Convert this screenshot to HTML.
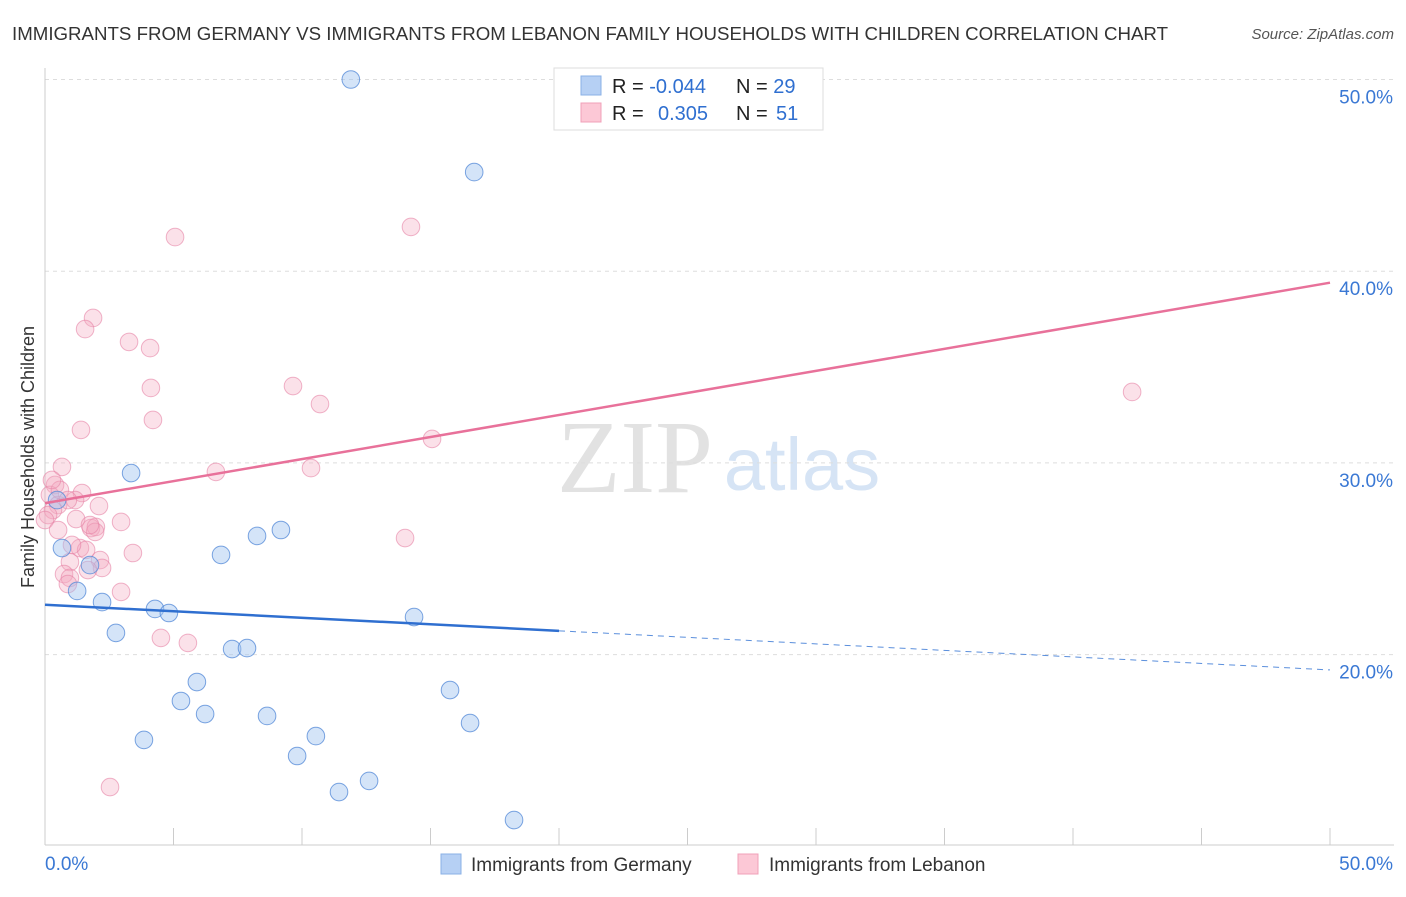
<!DOCTYPE html>
<html><head><meta charset="utf-8"><style>
body{margin:0;background:#fff;font-family:"Liberation Sans",sans-serif;}
</style></head><body>
<svg id="chart" width="1406" height="892" xmlns="http://www.w3.org/2000/svg" font-family="Liberation Sans, sans-serif">
<text x="12" y="40" font-size="18" fill="#333" textLength="1156" lengthAdjust="spacingAndGlyphs">IMMIGRANTS FROM GERMANY VS IMMIGRANTS FROM LEBANON FAMILY HOUSEHOLDS WITH CHILDREN CORRELATION CHART</text>
<text x="1394" y="39" font-size="15" fill="#555" font-style="italic" text-anchor="end">Source: ZipAtlas.com</text>
<text transform="translate(34,457) rotate(-90)" font-size="18" fill="#333" text-anchor="middle">Family Households with Children</text>
<g>
<text x="635" y="492" font-size="104" font-family="Liberation Serif, serif" fill="#e2e2e2" text-anchor="middle">ZIP</text>
<text x="802" y="490" font-size="74" fill="#d6e4f5" text-anchor="middle">atlas</text>
</g>
<g id="grid"></g>
<g id="marks"></g>
<g>
<rect x="554" y="68" width="269" height="62" fill="#fff" stroke="#ddd"/>
<rect x="581" y="76" width="20" height="19" fill="#b6d0f4" stroke="#8ab0e6"/>
<rect x="581" y="103" width="20" height="19" fill="#fcc8d6" stroke="#f0a0b8"/>
<text x="612" y="93" font-size="20" fill="#222">R = <tspan fill="#2f6fd0">-0.044</tspan></text>
<text x="736" y="93" font-size="20" fill="#222">N = <tspan fill="#2f6fd0">29</tspan></text>
<text x="612" y="120" font-size="20" fill="#222">R = <tspan fill="#2f6fd0" x="658">0.305</tspan></text>
<text x="736" y="120" font-size="20" fill="#222">N = <tspan fill="#2f6fd0" x="776">51</tspan></text>
</g>
<g>
<rect x="441" y="854" width="20" height="20" fill="#b6d0f4" stroke="#8ab0e6"/>
<text x="471" y="871" font-size="19" fill="#333">Immigrants from Germany</text>
<rect x="738" y="854" width="20" height="20" fill="#fcc8d6" stroke="#f0a0b8"/>
<text x="769" y="871" font-size="19" fill="#333">Immigrants from Lebanon</text>
</g>
</svg>
<script>
const yTicks=[20,30,40,50];
const yTickLabels=["20.0%","30.0%","40.0%","50.0%"];
const xTickVals=[0,5,10,15,20,25,30,35,40,45,50];
const germanyX=[11.9,16.7,3.35,0.66,1.75,1.25,2.22,6.85,8.25,9.18,4.28,4.82,2.76,7.28,7.86,14.36,5.91,5.29,6.23,8.64,3.85,9.81,10.54,11.44,12.61,15.76,16.54,18.25,0.47];
const germanyY=[50.0,45.17,29.47,25.56,24.67,23.32,22.74,25.2,26.19,26.5,22.38,22.17,21.13,20.29,20.34,21.96,18.57,17.58,16.9,16.8,15.55,14.71,15.75,12.83,13.41,18.15,16.43,11.37,28.06];
const lebanonX=[5.06,14.24,1.87,1.56,3.27,4.09,4.12,9.65,10.7,4.2,1.4,15.06,0.66,6.65,10.35,42.3,14.01,0.39,1.44,0.19,1.17,0.51,2.1,0.31,0.12,1.21,2.96,1.79,1.98,1.95,1.36,1.6,3.42,0.97,2.14,2.22,1.67,0.74,0.97,0.89,2.96,4.51,5.56,2.53,0,0.58,0.89,0.27,1.75,0.51,1.05];
const lebanonY=[41.78,42.31,37.56,36.98,36.31,35.99,33.91,34.01,33.07,32.24,31.72,31.25,29.79,29.53,29.73,33.7,26.08,28.85,28.43,28.33,28.06,27.8,27.75,27.54,27.28,27.07,26.92,26.6,26.66,26.4,25.56,25.46,25.3,24.83,24.93,24.52,24.41,24.2,24.0,23.68,23.27,20.87,20.61,13.09,27.02,28.59,28.06,29.11,26.76,26.5,25.72];
const germanyTrend=[22.6,19.2];
const lebanonTrend=[27.9,39.4];
const germanySolidEnd=20;

const sx=v=>45+v*25.7;
const sy=v=>1038-v*19.17;
const NS="http://www.w3.org/2000/svg";
const grid=document.getElementById('grid'), marks=document.getElementById('marks');
function mk(tag,attrs,parent){const e=document.createElementNS(NS,tag);for(const k in attrs)e.setAttribute(k,attrs[k]);parent.appendChild(e);return e;}

yTicks.forEach((t,i)=>{
  const g=mk('line',{x1:45,x2:1394,y1:sy(t),y2:sy(t),stroke:'#ddd','stroke-dasharray':'4,4'},grid);
  
  
  const l=mk('text',{x:1393,y:sy(t)+24,'font-size':19,fill:'#3a78d4','text-anchor':'end'},grid);
  l.textContent=yTickLabels[i];
  
  
});
const ax=mk('line',{x1:45,x2:1394,y1:845,y2:845,stroke:'#ccc'},grid);


const ay=mk('line',{x1:45,x2:45,y1:68,y2:845,stroke:'#ccc'},grid);


xTickVals.forEach(t=>{
  const tk=mk('line',{x1:sx(t),x2:sx(t),y1:828,y2:845,stroke:'#ccc'},grid);
  
  
});
const xl0=mk('text',{x:45,y:870,'font-size':19,fill:'#3a78d4'},grid);xl0.textContent='0.0%';


const xl1=mk('text',{x:1393,y:870,'font-size':19,fill:'#3a78d4','text-anchor':'end'},grid);xl1.textContent='50.0%';



lebanonX.forEach((x,i)=>{
  const c=mk('circle',{cx:sx(x),cy:sy(lebanonY[i]),r:8.8,fill:'rgba(244,168,192,0.35)',stroke:'rgba(230,130,165,0.6)','stroke-width':1},marks);
  
  
});
germanyX.forEach((x,i)=>{
  const c=mk('circle',{cx:sx(x),cy:sy(germanyY[i]),r:8.8,fill:'rgba(160,196,240,0.45)',stroke:'rgba(80,135,215,0.75)','stroke-width':1},marks);
  
  
});
const gAt=x=>germanyTrend[0]+(germanyTrend[1]-germanyTrend[0])*x/50;
const t1=mk('line',{x1:sx(0),y1:sy(lebanonTrend[0]),x2:sx(50),y2:sy(lebanonTrend[1]),stroke:'#e8719a','stroke-width':2.5},marks);


const t2=mk('line',{x1:sx(0),y1:sy(gAt(0)),x2:sx(germanySolidEnd),y2:sy(gAt(germanySolidEnd)),stroke:'#2f6fd0','stroke-width':2.5},marks);


const t3=mk('line',{x1:sx(germanySolidEnd),y1:sy(gAt(germanySolidEnd)),x2:sx(50),y2:sy(gAt(50)),stroke:'#5b8fdc','stroke-width':1,'stroke-dasharray':'6,5'},marks);


</script>
</body></html>
